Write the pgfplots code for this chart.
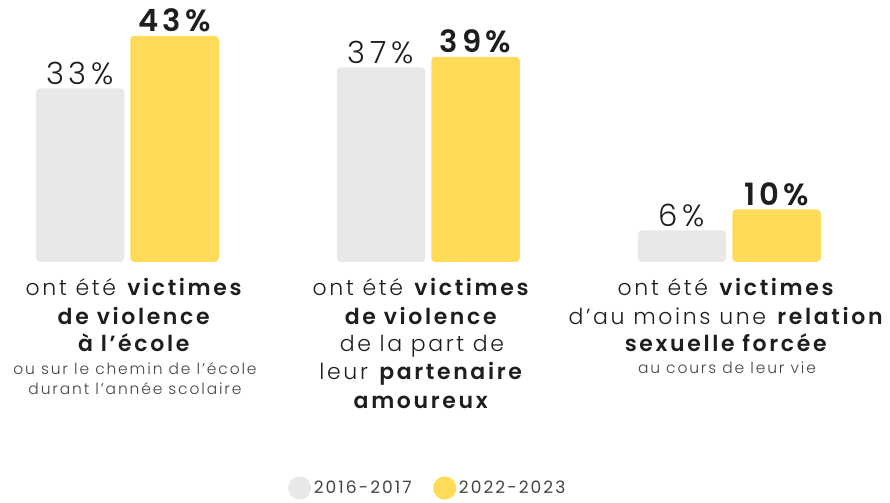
\documentclass[border=0pt]{standalone}
\usepackage{fontspec}
\setmainfont{Poppins}[UprightFont={* Light}, BoldFont={* SemiBold}, LetterSpace=12]
\newfontfamily\poplight{Poppins}[UprightFont={* Light}, LetterSpace=16]
\newfontfamily\popbold{Poppins}[UprightFont={* SemiBold}, LetterSpace=14]
\newfontfamily\popreg{Poppins}[LetterSpace=12]
\usepackage{pgfplots}
\pgfplotsset{compat=1.18}
\definecolor{gbarc}{HTML}{E9E8E6}
\definecolor{ybarc}{HTML}{FFDB58}
\definecolor{txt}{HTML}{1E1E1E}
\definecolor{smalltxt}{HTML}{444444}
\newcommand{\bigf}{\fontsize{16.5}{21}\selectfont}
\newcommand{\smf}{\fontsize{11.6}{14}\selectfont}
\begin{document}
\begin{tikzpicture}
\begin{axis}[scale only axis, width=667.5pt, height=375pt,
  xmin=0, xmax=890, ymin=-45.25, ymax=49.81, hide axis, clip=false,
  ybar, bar shift=0pt, bar width=88.5,
  legend columns=2,
  legend style={draw=none, fill=none, at={(axis cs:428,-42.97)}, anchor=center,
    font=\popreg\fontsize{12.8}{14}\selectfont, text=smalltxt,
    /tikz/every even column/.append style={column sep=14pt}},
]
\path (rel axis cs:0,0) rectangle (rel axis cs:1,1);
\addplot[fill=gbarc, draw=none, rounded corners=3pt,
  nodes near coords={\pgfplotspointmeta\%}, point meta=explicit symbolic,
  nodes near coords style={font=\poplight\fontsize{23}{23}\selectfont, text=txt, anchor=base, yshift=3pt},
  legend image code/.code={\fill[gbarc] (0pt,0pt) circle (8.7pt);}]
  table[meta=lab] {
x y lab
80 33 33
381 37 37
682 6 6
};
\addlegendentry{2016-2017}
\addplot[fill=ybarc, draw=none, rounded corners=3pt,
  nodes near coords={\pgfplotspointmeta\%}, point meta=explicit symbolic,
  nodes near coords style={font=\popbold\fontsize{23}{23}\selectfont, text=txt, anchor=base, yshift=3pt},
  legend image code/.code={\fill[ybarc] (0pt,0pt) circle (8.7pt);}]
  table[meta=lab] {
x y lab
174.5 43 43
475.5 39 39
776.5 10 10
};
\addlegendentry{2022-2023}
% group 1
\node[anchor=base, font=\bigf, text=txt] at (axis cs:135,-6.46) {ont été \textbf{victimes}};
\node[anchor=base, font=\bigf, text=txt] at (axis cs:135,-11.79) {\textbf{de violence}};
\node[anchor=base, font=\bigf, text=txt] at (axis cs:135,-17.11) {\textbf{à l’école}};
\node[anchor=base, font=\smf, text=smalltxt] at (axis cs:135,-21.48) {ou sur le chemin de l’école};
\node[anchor=base, font=\smf, text=smalltxt] at (axis cs:135,-25.10) {durant l’année scolaire};
% group 2
\node[anchor=base, font=\bigf, text=txt] at (axis cs:422,-6.46) {ont été \textbf{victimes}};
\node[anchor=base, font=\bigf, text=txt] at (axis cs:422,-11.79) {\textbf{de violence}};
\node[anchor=base, font=\bigf, text=txt] at (axis cs:422,-17.11) {de la part de};
\node[anchor=base, font=\bigf, text=txt] at (axis cs:422,-22.43) {leur \textbf{partenaire}};
\node[anchor=base, font=\bigf, text=txt] at (axis cs:422,-27.76) {\textbf{amoureux}};
% group 3
\node[anchor=base, font=\bigf, text=txt] at (axis cs:727,-6.46) {ont été \textbf{victimes}};
\node[anchor=base, font=\bigf, text=txt] at (axis cs:727,-11.79) {d’au moins une \textbf{relation}};
\node[anchor=base, font=\bigf, text=txt] at (axis cs:727,-17.11) {\textbf{sexuelle forcée}};
\node[anchor=base, font=\smf, text=smalltxt] at (axis cs:727,-21.29) {au cours de leur vie};
\end{axis}
\end{tikzpicture}
\end{document}
